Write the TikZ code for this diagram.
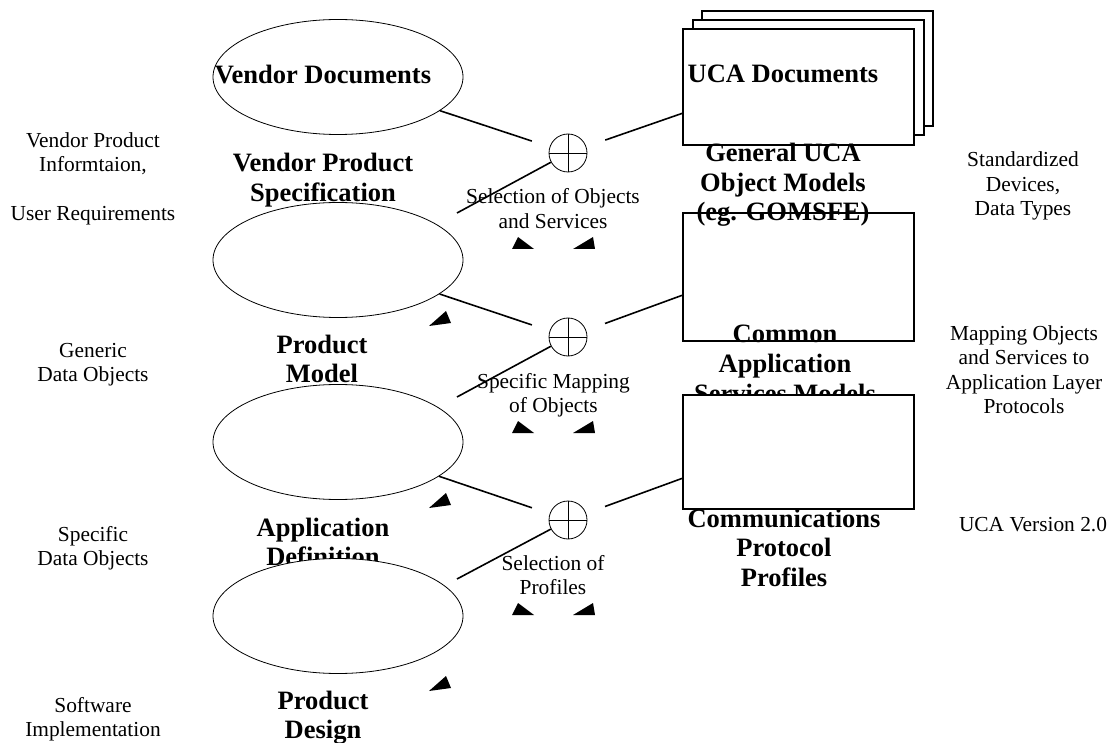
\documentclass[tikz,border=0pt]{standalone}
\usepackage{fontspec}
\setmainfont{Liberation Serif}
\usetikzlibrary{shapes.geometric,calc}
\begin{document}
\begin{tikzpicture}[x=1pt,y=-1pt,
  oval/.style={ellipse,draw,line width=0.8pt,fill=white,minimum width=250pt,minimum height=115pt,inner sep=0pt},
  joint/.style={circle,draw,line width=0.8pt,minimum size=38pt,inner sep=0pt,
    path picture={\draw[line width=0.8pt]
      (path picture bounding box.north) -- (path picture bounding box.south)
      (path picture bounding box.west) -- (path picture bounding box.east);}},
  sheet/.style={rectangle,draw,line width=1.6pt,fill=white,minimum width=231pt,inner sep=0pt},
  link/.style={line width=1.6pt},
  % multi-line labels: the base anchor sits on the baseline of the last line
  title/.style={font=\fontsize{26.5}{29.5}\selectfont\bfseries,align=center,anchor=base,inner sep=0pt},
  note/.style={font=\fontsize{21.4}{24.5}\selectfont,align=center,anchor=base,inner sep=0pt},
  tipL/.pic={\fill (0,0) -- ++(22,0) -- ++(-16,-12) -- cycle;},
  tipR/.pic={\fill (0,0) -- ++(22,0) -- ++(-2,-12) -- cycle;},
  tipE/.pic={\fill (0,0) -- ++(22,-3) -- ++(-5,-12) -- cycle;}
]
\useasboundingbox (0,0) rectangle (1114,743);

% side notes
\node[note] (nVendor) at (93,221) {Vendor Product\\Informtaion,\\[24.5pt]User Requirements};
\node[note] (nGeneric) at (93,381.5) {Generic\\Data Objects};
\node[note] (nSpecific) at (93,565.5) {Specific\\Data Objects};
\node[note] (nSoftware) at (93,736.5) {Software\\Implementation};
\node[note] (nStd) at (1023,216) {Standardized\\Devices,\\Data Types};
\node[note] (nMap) at (1024,413.5) {Mapping Objects\\and Services to\\Application Layer\\Protocols};
\node[note] (nVer) at (1033,531) {UCA Version 2.0};

% product chain (left)
\node[oval] (e1) at (338,77) {};
\node[title] (tVD) at (323,84) {Vendor Documents};
\node[title] (tVPS) at (323,201.5) {Vendor Product\\Specification};
\node[oval] (e2) at (338,260) {};
\node[title] (tPM) at (322,382.5) {Product\\Model};
\node[oval] (e3) at (338,442) {};
\node[title] (tAD) at (323,565.5) {Application\\Definition};
\node[oval] (e4) at (338,616) {};
\node[title] (tPD) at (323,738.5) {Product\\Design};

% UCA chain (right)
\node[sheet,minimum height=115pt] (d3) at (817.5,68.5) {};
\node[sheet,minimum height=115pt] (d2) at (808.5,77.5) {};
\node[sheet,minimum height=116pt] (b1) at (798.5,87) {};
\node[title] (tUCA) at (783,83) {UCA Documents};
\node[sheet,minimum height=128pt] (b2) at (798.5,277) {};
\node[title] (tGen) at (783,221) {General UCA\\Object Models\\(eg. GOMSFE)};
\node[title] (tCom) at (785,402) {Common\\Application\\Services Models};
\node[sheet,minimum height=114pt] (b3) at (798.5,452) {};
\node[title] (tCP) at (784,586) {Communications\\Protocol\\Profiles};

% combining joints
\node[joint] (c1) at (568,153) {};
\node[joint] (c2) at (568,337) {};
\node[joint] (c3) at (568,520) {};
\coordinate (f1) at (457,213);
\coordinate (f2) at (457,397);
\coordinate (f3) at (457,579);

\node[note] (m1) at (553,228.5) {Selection of Objects\\and Services};
\node[note] (m2) at (553.5,412.5) {Specific Mapping\\of Objects};
\node[note] (m3) at (553,594.5) {Selection of\\Profiles};

% connectors
\draw[link,shorten >=18.7pt] (e1) -- (c1);
\draw[link,shorten <=20pt] (c1) -- ($(b1.south west)!0.276!(b1.north west)$);
\draw[link] (c1) -- (f1);
\draw[link,shorten >=18.7pt] (e2) -- (c2);
\draw[link,shorten <=20pt] (c2) -- ($(b2.south west)!0.359!(b2.north west)$);
\draw[link] (c2) -- (f2);
\draw[link,shorten >=18.7pt] (e3) -- (c3);
\draw[link,shorten <=20pt] (c3) -- ($(b3.south west)!0.272!(b3.north west)$);
\draw[link] (c3) -- (f3);

% arrow heads
\pic at (512,249) {tipL};
\pic at (573,249) {tipR};
\pic at (512,433) {tipL};
\pic at (573,433) {tipR};
\pic at (512,615) {tipL};
\pic at (573,615) {tipR};
\pic at (429,326) {tipE};
\pic at (429,508) {tipE};
\pic at (429,691) {tipE};
\end{tikzpicture}
\end{document}
